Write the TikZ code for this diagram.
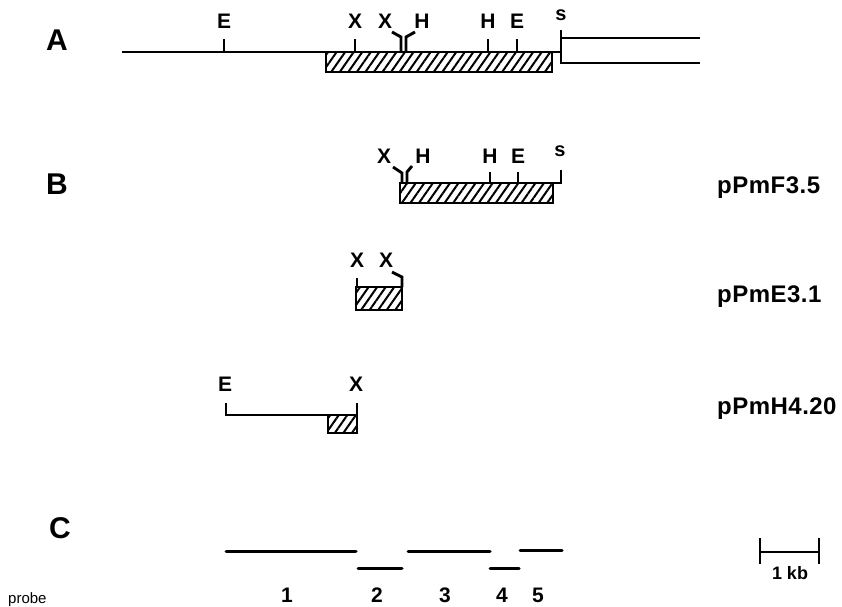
\documentclass[tikz,border=0pt]{standalone}
\usepackage{fontspec}
\setmainfont{Liberation Sans}
\usetikzlibrary{patterns.meta}
\begin{document}
\begin{tikzpicture}[x=1pt,y=-1pt,
  dna/.style={line width=2.9pt, line join=miter},
  probeline/.style={line width=3pt, line cap=round},
  hatchbox/.style={draw, line width=2.6pt,
    pattern={Lines[angle=55,distance=7pt,line width=2pt]}},
  panel/.style={font=\fontsize{30}{30}\selectfont\bfseries, inner sep=0pt},
  site/.style={font=\fontsize{21}{21}\selectfont\bfseries, inner sep=0pt},
  ssite/.style={font=\fontsize{20}{20}\selectfont\bfseries, inner sep=0pt},
  clone/.style={font=\fontsize{24}{24}\selectfont\bfseries\addfontfeature{LetterSpace=2}, inner sep=0pt, anchor=base west},
  num/.style={font=\fontsize{21}{21}\selectfont\bfseries, inner sep=0pt}]
\useasboundingbox (0,0) rectangle (842,606);

% ---------- A: genomic map ----------
\node[panel] (pA) at (57,40) {A};
\node[site] (aE1) at (224,21) {E};
\node[site] (aX1) at (355,21) {X};
\node[site] (aX2) at (385,21) {X};
\node[site] (aH1) at (422,21) {H};
\node[site] (aH2) at (488,21) {H};
\node[site] (aE2) at (517,21) {E};
\node[ssite] (aS) at (561,15) {s};
\coordinate (aL) at (122,52);
\coordinate (aR) at (561,52);
\draw[hatchbox] (326,52) rectangle (552,72);
\draw[dna] (aL) -- (aR);
\draw[dna] (224,39) -- (224,52);
\draw[dna] (355,39) -- (355,52);
\draw[dna] (392,32) -- (401,37) -- (401,52);
\draw[dna] (415,32) -- (406,37) -- (406,52);
\draw[dna] (488,39) -- (488,52);
\draw[dna] (517,39) -- (517,52);
\draw[dna] (561,30) -- (561,63) -- (700,63);
\draw[dna] (561,38) -- (700,38);

% ---------- B: clones ----------
\node[panel] (pB) at (57,184) {B};
% pPmF3.5
\node[site] (bX) at (384,156) {X};
\node[site] (bH1) at (423,156) {H};
\node[site] (bH2) at (490,156) {H};
\node[site] (bE) at (518,156) {E};
\node[ssite] (bS) at (560,151) {s};
\draw[hatchbox] (400,183) rectangle (553,203);
\draw[dna] (400,183) -- (561,183);
\draw[dna] (393,167) -- (402,173) -- (402,183);
\draw[dna] (412,166) -- (407,172) -- (407,183);
\draw[dna] (490,172) -- (490,183);
\draw[dna] (518,172) -- (518,183);
\draw[dna] (561,170) -- (561,184);
\node[clone] (cF) at (717,193) {pPmF3.5};

% pPmE3.1
\node[site] (eX1) at (357,260) {X};
\node[site] (eX2) at (386,260) {X};
\draw[hatchbox] (356,287) rectangle (402,310);
\draw[dna] (357,278) -- (357,287) -- (402,287);
\draw[dna] (392,272) -- (402,277) -- (402,287);
\node[clone] (cE) at (717,302) {pPmE3.1};

% pPmH4.20
\node[site] (hE) at (225,384) {E};
\node[site] (hX) at (356,384) {X};
\draw[hatchbox] (328,415) rectangle (357,433);
\draw[dna] (226,403) -- (226,415) -- (357,415) -- (357,403);
\node[clone] (cH) at (717,414) {pPmH4.20};

% ---------- C: probes ----------
\node[panel] (pC) at (60,528) {C};
\draw[probeline] (226,551) -- (356,551);
\draw[probeline] (358,568) -- (402,568);
\draw[probeline] (408,551) -- (490,551);
\draw[probeline] (490,568) -- (519,568);
\draw[probeline] (520,550) -- (562,550);
\node[font=\fontsize{15}{15}\selectfont, inner sep=0pt, anchor=base west] (prb) at (8,603) {probe};
\node[num] (n1) at (287,595) {1};
\node[num] (n2) at (377,595) {2};
\node[num] (n3) at (445,595) {3};
\node[num] (n4) at (502,595) {4};
\node[num] (n5) at (538,595) {5};

% scale bar
\coordinate (sbL) at (760,552);
\coordinate (sbR) at (819,552);
\draw[dna] (sbL) -- (sbR);
\draw[dna] (760,538) -- (760,564);
\draw[dna] (819,538) -- (819,564);
\node[font=\fontsize{18}{18}\selectfont\bfseries, inner sep=0pt] (kb) at (790,573) {1 kb};
\end{tikzpicture}
\end{document}
